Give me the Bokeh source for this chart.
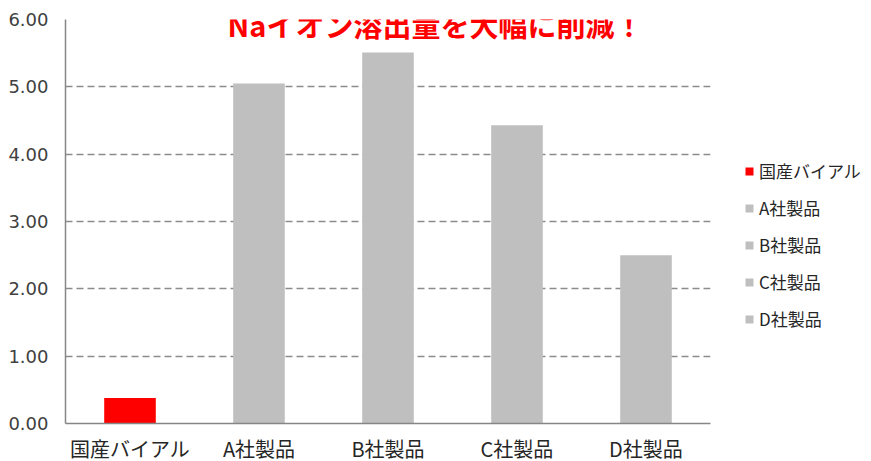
from bokeh.plotting import figure
from bokeh.models import (ColumnDataSource, FixedTicker, NumeralTickFormatter,
                          Legend, LegendItem, Label, Range1d)
from bokeh.embed import file_html
from bokeh.resources import INLINE

categories = ["国産バイアル", "A社製品", "B社製品", "C社製品", "D社製品"]
values = [0.38, 5.05, 5.51, 4.43, 2.50]
colors = ["#FF0000", "#BFBFBF", "#BFBFBF", "#BFBFBF", "#BFBFBF"]
y_ticks = [0, 1, 2, 3, 4, 5, 6]
title_text = "Naイオン溶出量を大幅に削減！"

JP = "Noto Sans CJK JP"

p = figure(x_range=categories, y_range=Range1d(0, 6),
           frame_width=645, frame_height=404,
           min_border_left=65, min_border_right=145, min_border_top=27,
           min_border_bottom=10,
           output_backend="svg", toolbar_location=None,
           background_fill_color="white", border_fill_color="white",
           outline_line_color=None,
           styles={"margin-top": "-8px", "margin-bottom": "-12px"})

source = ColumnDataSource(dict(cat=categories, val=values, col=colors))
r = p.vbar(x="cat", top="val", width=0.4, color="col", source=source, line_color=None)

# axes
p.yaxis.ticker = FixedTicker(ticks=y_ticks)
p.yaxis.formatter = NumeralTickFormatter(format="0.00")
p.yaxis.major_tick_line_color = None
p.yaxis.minor_tick_line_color = None
p.yaxis.axis_line_color = "#868686"
p.yaxis.axis_line_width = 1.5
p.yaxis.major_label_text_font = "DejaVu Sans"
p.yaxis.major_label_text_font_size = "18px"
p.yaxis.major_label_text_color = "#404040"
p.yaxis.major_label_standoff = 11

p.xaxis.major_tick_line_color = None
p.xaxis.minor_tick_line_color = None
p.xaxis.axis_line_color = "#868686"
p.xaxis.axis_line_width = 1.5
p.xaxis.major_label_text_font = JP
p.xaxis.major_label_text_font_size = "20px"
p.xaxis.major_label_text_color = "#262626"
p.xaxis.major_label_standoff = 4

p.xgrid.grid_line_color = None
p.ygrid.grid_line_color = "#8C8C8C"
p.ygrid.grid_line_width = 1.5
p.ygrid.grid_line_dash = "7 4"
p.x_range.range_padding = 0

# legend
items = [LegendItem(label=c, renderers=[r], index=i) for i, c in enumerate(categories)]
legend = Legend(items=items, location=(34, 92), orientation="vertical",
                glyph_width=10, glyph_height=10, label_height=20,
                spacing=12, padding=0, margin=0, label_standoff=5,
                label_text_font=JP, label_text_font_size="17px",
                label_text_color="#262626",
                border_line_color=None, background_fill_alpha=0)
p.add_layout(legend, "right")

# title
title = Label(x=370, y=6.0, x_units="screen", y_units="data", y_offset=-25,
              text=title_text, text_align="center", text_baseline="bottom",
              text_font=JP, text_font_size="29px", text_font_style="bold",
              text_color="#FF0000")
p.add_layout(title)

open("out.html", "w").write(file_html(p, INLINE))
